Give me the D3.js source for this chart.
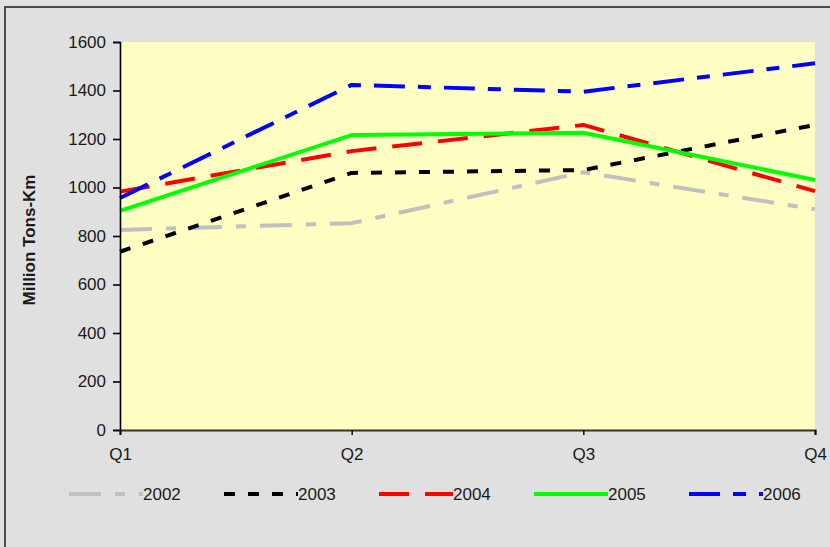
<!DOCTYPE html>
<html>
<head>
<meta charset="utf-8">
<script src="https://cdn.jsdelivr.net/npm/d3@7"></script>
<style>
  html, body { margin: 0; padding: 0; background: #e0e0e0; }
  svg { display: block; }
  text { font-family: "Liberation Sans", Arial, sans-serif; fill: #1a1a1a; }
</style>
</head>
<body>
<svg id="chart" width="830" height="547"></svg>
<script>
// Quarterly freight volume by year (million tons-km)
const quarters = ["Q1", "Q2", "Q3", "Q4"];
const years = ["2002", "2003", "2004", "2005", "2006"];
const values2002 = [825, 853, 1063, 910];
const values2003 = [735, 1060, 1072, 1258];
const values2004 = [983, 1150, 1258, 985];
const values2005 = [904, 1216, 1226, 1031];
const values2006 = [957, 1423, 1395, 1512];
const yTicks = [0, 200, 400, 600, 800, 1000, 1200, 1400, 1600];
const yLabel = "Million Tons-Km";

const seriesValues = [values2002, values2003, values2004, values2005, values2006];
const seriesStyle = [
  { color: "#c0c0c0", dash: "32,14,10,14" },
  { color: "#000000", dash: "11,13" },
  { color: "#ff0000", dash: "30,16" },
  { color: "#00ff00", dash: null },
  { color: "#0000ff", dash: "31,13,13,13" }
];
const series = years.map((y, i) => ({ year: y, values: seriesValues[i], ...seriesStyle[i] }));

const svg = d3.select("#chart");
const W = 830, H = 547;
const plot = { left: 120, right: 815, top: 42, bottom: 430 };

// frame
svg.append("rect").attr("x", 0).attr("y", 0).attr("width", W).attr("height", H).attr("fill", "#e0e0e0");
svg.append("rect").attr("x", 5).attr("y", 7).attr("width", W + 10).attr("height", H + 10)
  .attr("fill", "none").attr("stroke", "#4a4a4a").attr("stroke-width", 2);

const x = d3.scalePoint().domain(quarters).range([plot.left, plot.right]);
const y = d3.scaleLinear().domain([0, 1600]).range([plot.bottom, plot.top]);

// plot background
svg.append("rect")
  .attr("x", plot.left).attr("y", plot.top)
  .attr("width", plot.right - plot.left).attr("height", plot.bottom - plot.top)
  .attr("fill", "#ffffc4");

// lines
const line = d3.line().x((d, i) => x(quarters[i])).y(d => y(d));
const lineG = svg.append("g");
series.forEach(s => {
  lineG.append("path")
    .attr("d", line(s.values))
    .attr("fill", "none")
    .attr("stroke", s.color)
    .attr("stroke-width", 4)
    .attr("stroke-linejoin", "round")
    .attr("stroke-dasharray", s.dash);
});

// y axis
const yAxis = svg.append("g").attr("transform", `translate(${plot.left},0)`)
  .call(d3.axisLeft(y).tickValues(yTicks).tickSize(7).tickPadding(7).tickFormat(d3.format("d")));
yAxis.select(".domain").attr("stroke", "#000").attr("stroke-width", 1.6);
yAxis.selectAll(".tick line").attr("stroke", "#000").attr("stroke-width", 1.6);
yAxis.selectAll(".tick text").attr("font-size", 17).style("fill", "#1a1a1a")
  .attr("font-family", "Liberation Sans, Arial, sans-serif");

// x axis
const xAxis = svg.append("g").attr("transform", `translate(0,${plot.bottom})`)
  .call(d3.axisBottom(x).tickSize(5).tickPadding(13));
xAxis.select(".domain").attr("stroke", "#33332a").attr("stroke-width", 2.2);
xAxis.selectAll(".tick line").attr("stroke", "#000").attr("stroke-width", 1.4);
xAxis.selectAll(".tick text").attr("font-size", 17).style("fill", "#1a1a1a")
  .attr("font-family", "Liberation Sans, Arial, sans-serif");

// y axis title
svg.append("text")
  .attr("transform", `translate(35,240) rotate(-90)`)
  .attr("text-anchor", "middle")
  .attr("font-size", 17)
  .attr("font-weight", "bold")
  .text(yLabel);

// legend
const legend = svg.append("g").attr("transform", "translate(69,494)");
series.forEach((s, i) => {
  const g = legend.append("g").attr("transform", `translate(${i * 155},0)`);
  g.append("line").attr("x1", 0).attr("x2", 74).attr("y1", 0).attr("y2", 0)
    .attr("stroke", s.color).attr("stroke-width", 4)
    .attr("stroke-dasharray", s.dash);
  g.append("text").attr("x", 74).attr("y", 6).attr("font-size", 17).text(s.year);
});
</script>
</body>
</html>
